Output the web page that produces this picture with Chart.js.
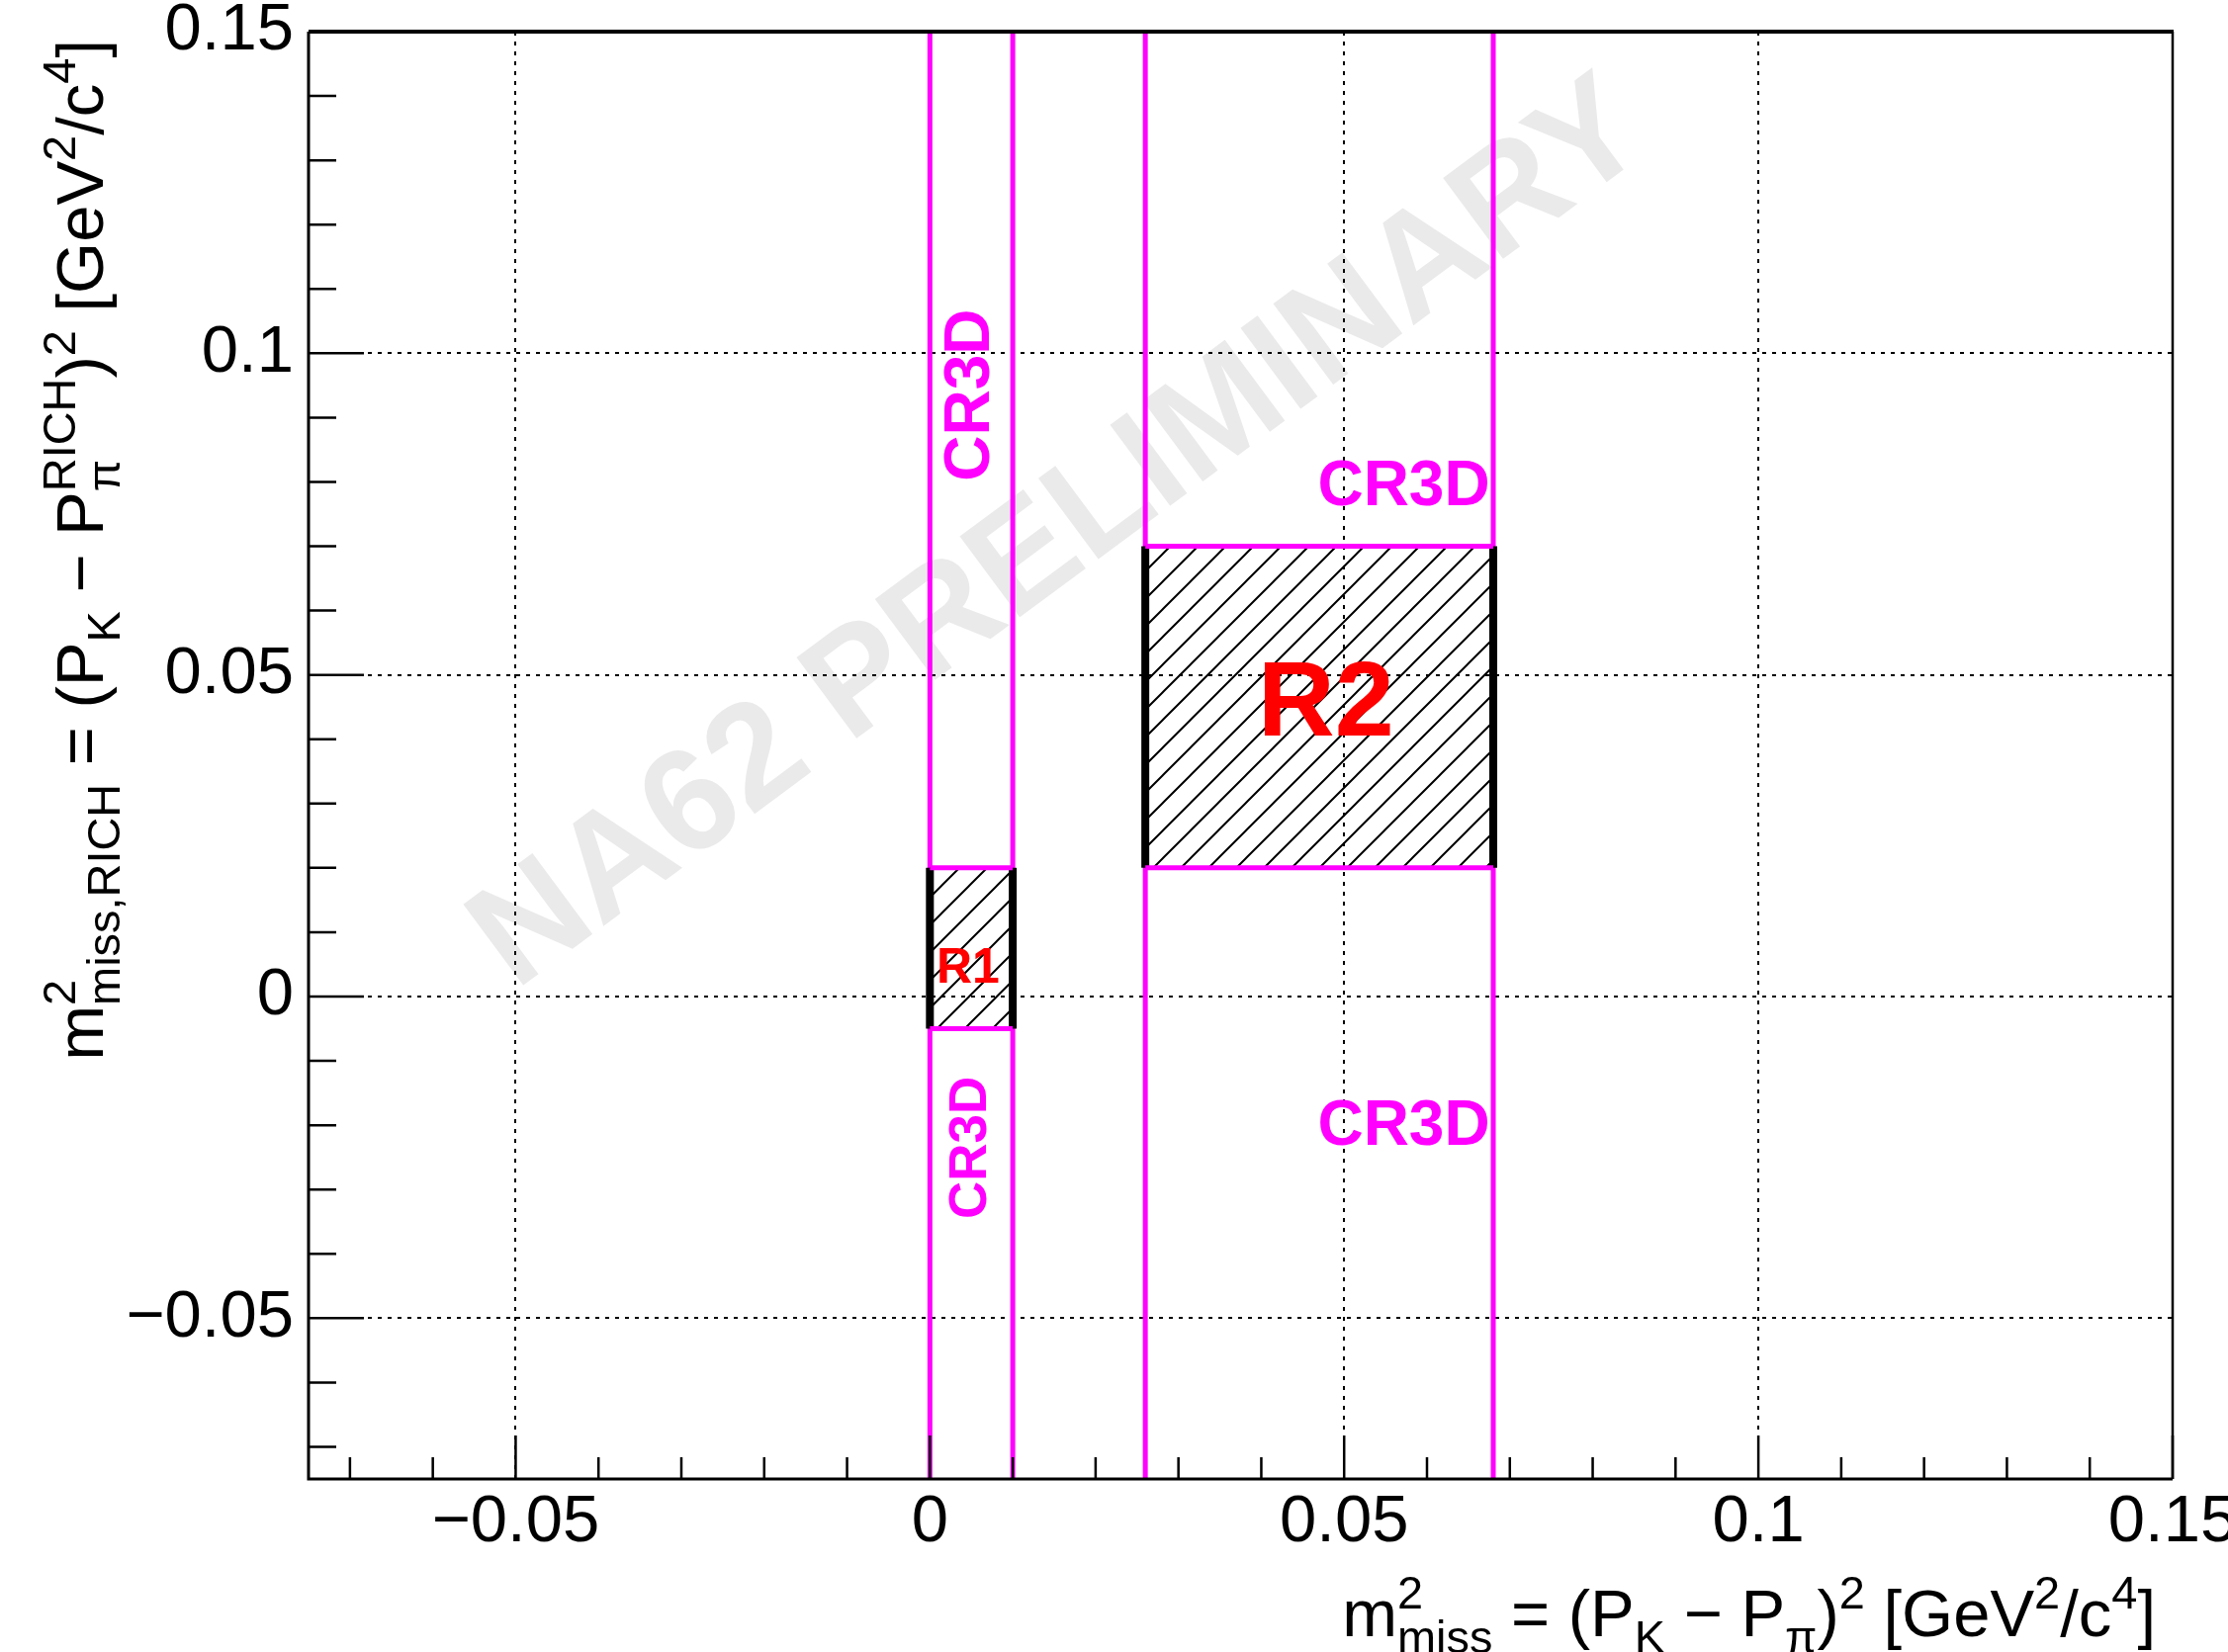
<!DOCTYPE html>
<html>
<head>
<meta charset="utf-8">
<script src="https://cdn.jsdelivr.net/npm/chart.js@4.4.1/dist/chart.umd.min.js"></script>
<style>
  html, body { margin: 0; padding: 0; background: #fff; }
  canvas { display: block; }
</style>
</head>
<body>
<canvas id="cr-chart" width="2253" height="1671"></canvas>
<script>
// Rangos de los ejes y etiquetas de las marcas
var xRange = [-0.075, 0.15];
var yRange = [-0.075, 0.15];
var xTicks = [-0.05, 0, 0.05, 0.1, 0.15];
var yTicks = [-0.05, 0, 0.05, 0.1, 0.15];
var minorStep = 0.01;

// Lineas magenta de las regiones de control CR3D
var crLinesX = [0, 0.01, 0.026, 0.068];

// Regiones de señal R1 y R2
var regionNames = ['R1', 'R2'];
var regionX = [[0, 0.01], [0.026, 0.068]];
var regionY = [[-0.005, 0.02], [0.02, 0.07]];
var regionLabelX = [0.0046, 0.0478];
var regionLabelY = [0.0042, 0.0452];

// Etiquetas CR3D
var crLabelText = 'CR3D';
var crLabelX = [0.005, 0.005, 0.0572, 0.0572];
var crLabelY = [0.0935, -0.0235, 0.0791, -0.0203];
var crLabelVertical = [true, true, false, false];
var crLabelSize = [64, 53, 64, 64];

// Marca de agua
var watermarkText = 'NA62 PRELIMINARY';
var watermarkPos = [0.0158, 0.0715];

// Titulos de los ejes: [texto, superindice, subindice]
var xTitleParts = [['m', '2', 'miss'], [' = (P', null, 'K'], [' \u2212 P', null, '\u03c0'], [')', '2'], [' [GeV', '2'], ['/c', '4'], [']']];
var yTitleParts = [['m', '2', 'miss,RICH'], [' = (P', null, 'K'], [' \u2212 P', 'RICH', '\u03c0'], [')', '2'], [' [GeV', '2'], ['/c', '4'], [']']];

var FONT = '"Liberation Sans", Arimo, Helvetica, Arial, sans-serif';
var MAGENTA = '#ff00ff';

// Patron rayado para las cajas
function makeHatch() {
    var c = document.createElement('canvas');
    var s = 28;
    c.width = s; c.height = s;
    var g = c.getContext('2d');
    g.strokeStyle = '#000';
    g.lineWidth = 2;
    g.beginPath();
    g.moveTo(-2, s + 2); g.lineTo(s + 2, -2);
    g.moveTo(-2, 2); g.lineTo(2, -2);
    g.moveTo(s - 2, s + 2); g.lineTo(s + 2, s - 2);
    g.stroke();
    return g.createPattern(c, 'repeat');
}
var hatch = makeHatch();

function seg(x0, y0, x1, y1) {
    return [{x: x0, y: y0}, {x: x1, y: y1}];
}

var datasets = [];
crLinesX.forEach(function (x) {
    datasets.push({data: seg(x, yRange[0], x, yRange[1]), borderColor: MAGENTA, borderWidth: 5, order: 5});
});
regionX.forEach(function (rx, i) {
    var ry = regionY[i];
    datasets.push({
        data: seg(rx[0], ry[1], rx[1], ry[1]),
        borderColor: '#000', borderWidth: 2,
        fill: {value: ry[0]}, backgroundColor: hatch, order: 4
    });
    datasets.push({data: seg(rx[0], ry[0], rx[1], ry[0]), borderColor: '#000', borderWidth: 2, order: 4});
    rx.forEach(function (x) {
        datasets.push({data: seg(x, ry[0], x, ry[1]), borderColor: '#000', borderWidth: 8, order: 3});
    });
    ry.forEach(function (y) {
        datasets.push({data: seg(rx[0], y, rx[1], y), borderColor: MAGENTA, borderWidth: 5, order: 2});
    });
});

function fmt(v) {
    return v < 0 ? '\u2212' + String(-v) : String(v);
}

// Texto con super y subindices, con linea base en (0,0)
function richText(ctx, parts, size, draw) {
    var x = 0, small = size * 0.7;
    parts.forEach(function (p) {
        ctx.font = size + 'px ' + FONT;
        if (draw) ctx.fillText(p[0], x, 0);
        x += ctx.measureText(p[0]).width;
        ctx.font = small + 'px ' + FONT;
        var w = 0;
        if (p[1]) {
            if (draw) ctx.fillText(p[1], x, -0.42 * size);
            w = ctx.measureText(p[1]).width;
        }
        if (p[2]) {
            if (draw) ctx.fillText(p[2], x, 0.25 * size);
            w = Math.max(w, ctx.measureText(p[2]).width);
        }
        x += w;
    });
    return x;
}

var rootStyle = {
    id: 'rootStyle',
    beforeDraw: function (chart) {
        var ctx = chart.ctx;
        ctx.save();
        ctx.fillStyle = '#fff';
        ctx.fillRect(0, 0, chart.width, chart.height);
        ctx.restore();
    },
    beforeDatasetsDraw: function (chart) {
        var ctx = chart.ctx, a = chart.chartArea, xs = chart.scales.x, ys = chart.scales.y;
        ctx.save();
        // marca de agua
        ctx.translate(xs.getPixelForValue(watermarkPos[0]), ys.getPixelForValue(watermarkPos[1]));
        ctx.rotate(-Math.atan2(chart.height, chart.width));
        ctx.font = 'bold 148px ' + FONT;
        ctx.fillStyle = 'rgb(234,234,234)';
        ctx.textAlign = 'center';
        ctx.textBaseline = 'middle';
        ctx.fillText(watermarkText, 0, 0);
        ctx.restore();

        // rejilla punteada
        ctx.save();
        ctx.strokeStyle = '#000';
        ctx.lineWidth = 2;
        ctx.setLineDash([4, 6]);
        ctx.beginPath();
        xTicks.forEach(function (v) {
            var px = Math.round(xs.getPixelForValue(v));
            ctx.moveTo(px, a.top); ctx.lineTo(px, a.bottom);
        });
        yTicks.forEach(function (v) {
            var py = Math.round(ys.getPixelForValue(v));
            ctx.moveTo(a.left, py); ctx.lineTo(a.right, py);
        });
        ctx.stroke();
        ctx.restore();
    },
    afterDatasetsDraw: function (chart) {
        var ctx = chart.ctx, a = chart.chartArea, xs = chart.scales.x, ys = chart.scales.y;
        ctx.save();
        // marcas de los ejes (hacia dentro)
        ctx.strokeStyle = '#000';
        ctx.lineWidth = 2.5;
        ctx.beginPath();
        for (var i = -7; i <= 15; i++) {
            var major = i % 5 === 0;
            var px = xs.getPixelForValue(i * minorStep);
            ctx.moveTo(px, a.bottom); ctx.lineTo(px, a.bottom - (major ? 44 : 22));
            var py = ys.getPixelForValue(i * minorStep);
            ctx.moveTo(a.left, py); ctx.lineTo(a.left + (major ? 56 : 28), py);
        }
        ctx.stroke();
        // marco
        ctx.lineWidth = 3;
        ctx.beginPath();
        ctx.moveTo(a.left, a.top); ctx.lineTo(a.left, a.bottom); ctx.lineTo(a.right, a.bottom);
        ctx.stroke();
        ctx.lineWidth = 2.5;
        ctx.beginPath();
        ctx.moveTo(a.right, a.bottom); ctx.lineTo(a.right, a.top);
        ctx.stroke();
        ctx.lineWidth = 4;
        ctx.beginPath();
        ctx.moveTo(a.left, a.top); ctx.lineTo(a.right + 1, a.top);
        ctx.stroke();

        // etiquetas CR3D
        ctx.fillStyle = MAGENTA;
        ctx.textAlign = 'center';
        ctx.textBaseline = 'middle';
        crLabelX.forEach(function (x, k) {
            ctx.save();
            ctx.font = 'bold ' + crLabelSize[k] + 'px ' + FONT;
            ctx.translate(xs.getPixelForValue(x), ys.getPixelForValue(crLabelY[k]));
            if (crLabelVertical[k]) ctx.rotate(-Math.PI / 2);
            ctx.fillText(crLabelText, 0, 0);
            ctx.restore();
        });

        // etiquetas R1, R2
        ctx.fillStyle = '#ff0000';
        regionNames.forEach(function (n, k) {
            ctx.font = 'bold ' + (k === 0 ? 50 : 108) + 'px ' + FONT;
            ctx.fillText(n, xs.getPixelForValue(regionLabelX[k]), ys.getPixelForValue(regionLabelY[k]));
        });

        // titulos de los ejes
        ctx.fillStyle = '#000';
        ctx.textAlign = 'left';
        ctx.textBaseline = 'alphabetic';
        var wx = richText(ctx, xTitleParts, 67, false);
        ctx.save();
        ctx.translate(a.right - 17 - wx, a.bottom + 159);
        richText(ctx, xTitleParts, 67, true);
        ctx.restore();

        var wy = richText(ctx, yTitleParts, 67, false);
        ctx.save();
        ctx.translate(104, a.top + 8);
        ctx.rotate(-Math.PI / 2);
        ctx.translate(-wy, 0);
        richText(ctx, yTitleParts, 67, true);
        ctx.restore();
        ctx.restore();
    }
};

Chart.defaults.font.family = FONT;

var ctx = document.getElementById('cr-chart').getContext('2d');
var chart = new Chart(ctx, {
    type: 'line',
    data: {datasets: datasets},
    options: {
        responsive: false,
        devicePixelRatio: 1,
        animation: false,
        layout: {padding: {left: 0, top: 32, right: 56, bottom: 0}},
        elements: {
            point: {radius: 0, hoverRadius: 0},
            line: {tension: 0, borderCapStyle: 'butt'}
        },
        plugins: {
            legend: {display: false},
            tooltip: {enabled: false}
        },
        scales: {
            x: {
                type: 'linear',
                min: xRange[0],
                max: xRange[1],
                grid: {display: false, drawTicks: false},
                border: {display: false},
                afterBuildTicks: function (s) { s.ticks = xTicks.map(function (v) { return {value: v}; }); },
                afterFit: function (s) { s.height = 175; s.paddingLeft = 0; s.paddingRight = 0; },
                ticks: {
                    autoSkip: false, maxRotation: 0, minRotation: 0, padding: 4,
                    color: '#000', font: {size: 67}, callback: fmt
                }
            },
            y: {
                type: 'linear',
                min: yRange[0],
                max: yRange[1],
                grid: {display: false, drawTicks: false},
                border: {display: false},
                afterBuildTicks: function (s) { s.ticks = yTicks.map(function (v) { return {value: v}; }); },
                afterFit: function (s) { s.width = 312; s.paddingTop = 0; s.paddingBottom = 0; },
                ticks: {
                    autoSkip: false, padding: 15,
                    color: '#000', font: {size: 67}, callback: fmt
                }
            }
        }
    },
    plugins: [rootStyle]
});
</script>
</body>
</html>
